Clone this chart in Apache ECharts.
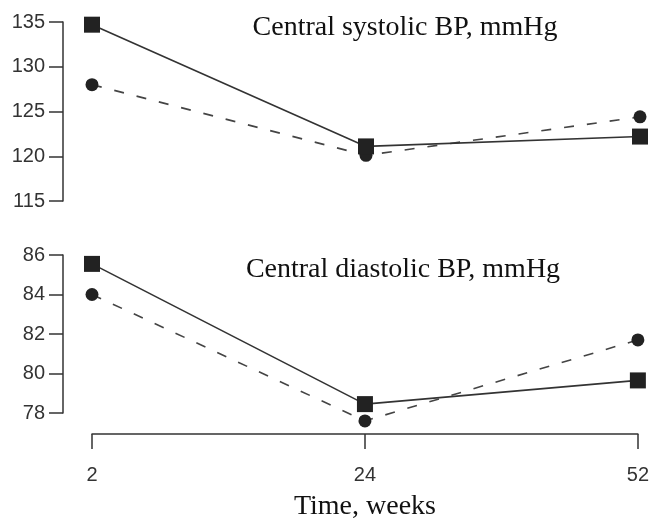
<!DOCTYPE html>
<html>
<head>
<meta charset="utf-8">
<script src="https://cdn.jsdelivr.net/npm/echarts@6/dist/echarts.min.js"></script>
<style>html,body{margin:0;padding:0;background:#fff;}#c{width:652px;height:522px;}</style>
</head>
<body>
<div id="c"></div>
<script>
const weeks = ['2', '24', '52'];
const sysSolid = [134.7, 121.1, 122.2];
const sysDashed = [128.0, 120.1, 124.4];
const diaSolid = [85.55, 78.45, 79.65];
const diaDashed = [84.0, 77.6, 81.7];
const sysTicks = { min: 115, max: 135, interval: 5 };
const diaTicks = { min: 78, max: 86, interval: 2 };

const chart = echarts.init(document.getElementById('c'), null, { renderer: 'canvas' });
const axisColor = '#333';
const labelFont = { color: '#333', fontSize: 20, fontFamily: 'Liberation Sans, Arial, sans-serif' };
const serif = 'Liberation Serif, Times New Roman, serif';

function yAxis(idx, t) {
  return {
    type: 'value', gridIndex: idx, min: t.min, max: t.max, interval: t.interval,
    offset: 29,
    axisLine: { show: true, lineStyle: { color: axisColor, width: 1.5 } },
    axisTick: { show: true, length: 14, lineStyle: { color: axisColor, width: 1.5 } },
    axisLabel: Object.assign({ margin: 18 }, labelFont),
    splitLine: { show: false }
  };
}
function solid(x, data) {
  return { type: 'line', xAxisIndex: x, yAxisIndex: x, data: data, symbol: 'rect', symbolSize: 16, clip: false,
    lineStyle: { color: '#333', width: 1.6, type: 'solid' }, itemStyle: { color: '#222' }, z: 3, animation: false };
}
function dashed(x, data) {
  return { type: 'line', xAxisIndex: x, yAxisIndex: x, data: data, symbol: 'circle', symbolSize: 13, clip: false,
    lineStyle: { color: '#444', width: 1.6, type: [10, 13] }, itemStyle: { color: '#222' }, z: 2, animation: false };
}

chart.setOption({
  backgroundColor: '#fff',
  animation: false,
  title: [
    { text: 'Central systolic BP, mmHg', left: 400, top: 9, textAlign: 'center',
      textStyle: { fontFamily: serif, fontSize: 28, fontWeight: 'normal', color: '#111' } },
    { text: 'Central diastolic BP, mmHg', left: 398, top: 251, textAlign: 'center',
      textStyle: { fontFamily: serif, fontSize: 28, fontWeight: 'normal', color: '#111' } }
  ],
  grid: [
    { left: 92, right: 12, top: 22, height: 179 },
    { left: 92, right: 12, top: 255, height: 161 }
  ],
  xAxis: [
    { type: 'category', gridIndex: 0, data: weeks, boundaryGap: false, show: false },
    { type: 'category', gridIndex: 1, data: weeks, boundaryGap: false, offset: 21,
      axisLine: { show: true, lineStyle: { color: axisColor, width: 1.5 } },
      axisTick: { show: true, length: 15, alignWithLabel: true, lineStyle: { color: axisColor, width: 1.5 } },
      axisLabel: Object.assign({ margin: 31, showMinLabel: true, showMaxLabel: true }, labelFont),
      name: 'Time, weeks', nameLocation: 'middle', nameGap: 59,
      nameTextStyle: { fontFamily: serif, fontSize: 28, color: '#111' },
      splitLine: { show: false } }
  ],
  yAxis: [yAxis(0, sysTicks), yAxis(1, diaTicks)],
  series: [
    solid(0, sysSolid), dashed(0, sysDashed),
    solid(1, diaSolid), dashed(1, diaDashed)
  ]
});
</script>
</body>
</html>
